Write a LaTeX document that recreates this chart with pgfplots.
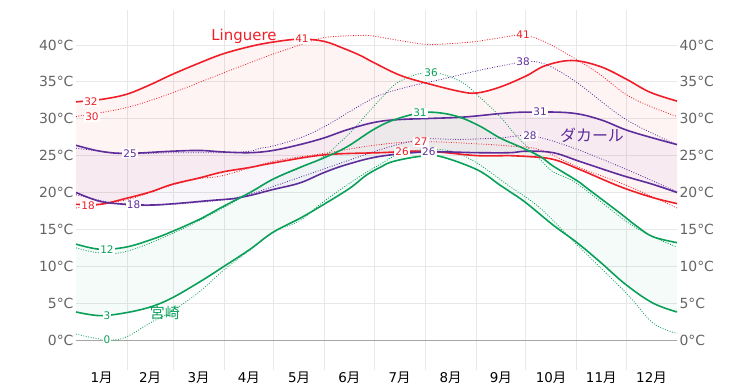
\documentclass[border=0pt]{standalone}
\usepackage{fontspec}
\setmainfont{DejaVu Sans}
\newfontfamily\jp{Noto Sans CJK JP}
\usepackage{pgfplots}
\pgfplotsset{compat=1.18}
\usepgfplotslibrary{fillbetween}
\definecolor{cR}{RGB}{240,30,40}
\definecolor{cP}{RGB}{95,45,155}
\definecolor{cG}{RGB}{10,160,90}
\definecolor{gridc}{RGB}{232,232,232}
\definecolor{tickc}{RGB}{100,100,100}
\tikzset{
  solidl/.style={line width=1.6bp, smooth, tension=0.6},
  dotl/.style={line width=0.8bp, smooth, tension=0.6, dash pattern=on 0.9bp off 1.6bp},
  lab/.style={font=\fontsize{10.5}{10.5}\selectfont, fill=white, inner sep=1pt}
}
\begin{document}
\begin{tikzpicture}
\begin{axis}[
  scale only axis, width=601bp, height=360bp,
  xmin=0, xmax=365, ymin=-4.07, ymax=44.75,
  axis line style={draw=none},
  tick style={draw=none},
  xtick={15.5,45,74.5,105,135.5,166,196.5,227.5,258,288.5,319,349.5},
  xticklabels={1{\jp 月},2{\jp 月},3{\jp 月},4{\jp 月},5{\jp 月},6{\jp 月},7{\jp 月},8{\jp 月},9{\jp 月},10{\jp 月},11{\jp 月},12{\jp 月}},
  minor xtick={31,59,90,120,151,181,212,243,273,304,334},
  xminorgrids,
  ytick={0,5,...,40},
  ymajorgrids,
  grid style={gridc, line width=0.8bp},
  minor grid style={gridc, line width=0.8bp},
  /pgf/number format/assume math mode=true,
  yticklabel={\pgfmathprintnumber{\tick}°C},
  yticklabel style={text=tickc, font=\fontsize{14}{15}\selectfont, xshift=1bp},
  xticklabel style={text=black, font=\fontsize{13.5}{14}\selectfont, inner sep=1bp, yshift=-1bp},
  clip=false,
]
\addplot[draw=gray!70, line width=0.8bp] coordinates {(0,0) (365,0)};

% Linguere
\addplot[name path=LH, draw=none, forget plot, smooth, tension=0.6] coordinates {(0,32.3)(14.6,32.6)(30.4,33.3)(44.9,34.6)(58.3,36.0)(75.3,37.6)(89.3,38.8)(105.7,39.8)(119.6,40.4)(136,40.8)(150.6,40.5)(163,39.5)(172.5,38.6)(181,37.6)(196.8,35.9)(213.2,34.8)(233.2,33.7)(243.5,33.5)(257.5,34.3)(273.3,35.8)(285,37.2)(301.2,37.9)(318.2,37.1)(334,35.4)(348.6,33.6)(365,32.4)};
\addplot[name path=LL, draw=none, forget plot, smooth, tension=0.6] coordinates {(0,18.4)(14.6,18.4)(30.4,19.2)(45.5,20.1)(58.3,21.1)(75.3,22)(89.3,22.8)(105.7,23.4)(119.6,24.0)(150.6,25.1)(184.6,25.4)(212.6,25.6)(243.5,25.0)(263.6,25.0)(273.3,24.9)(289.7,24.5)(306.1,23.1)(330.4,20.8)(350.4,19.3)(365,18.5)};
\addplot[fill=cR, fill opacity=0.05, draw=none, forget plot] fill between[of=LH and LL];

% Dakar
\addplot[name path=DH, draw=none, forget plot, smooth, tension=0.6] coordinates {(0,26.4)(14.6,25.6)(30.4,25.3)(58.3,25.6)(75.3,25.7)(89.3,25.5)(105.7,25.4)(119.6,25.7)(136,26.5)(150.6,27.4)(164.6,28.5)(181,29.5)(196.8,29.9)(233.2,30.2)(257.5,30.7)(273.3,30.9)(300,30.8)(318.2,29.9)(336.5,28.3)(365,26.5)};
\addplot[name path=DL, draw=none, forget plot, smooth, tension=0.6] coordinates {(0,20)(14.6,18.8)(30.4,18.4)(45.5,18.3)(60.7,18.5)(80.8,18.9)(97.2,19.2)(105.7,19.6)(119.6,20.4)(136,21.3)(150.6,22.7)(164.6,23.8)(184.6,24.9)(212.6,25.5)(243.5,25.4)(263.6,25.4)(273.3,25.6)(289.7,25.4)(306.1,24.2)(330.4,22.4)(350.4,21.1)(365,20)};
\addplot[fill=cP, fill opacity=0.045, draw=none, forget plot] fill between[of=DH and DL];

% Miyazaki
\addplot[name path=MH, draw=none, forget plot, smooth, tension=0.6] coordinates {(0,13)(14.6,12.3)(30.4,12.6)(45.5,13.6)(58.3,14.7)(75.3,16.4)(89.3,18.1)(105.7,20.0)(119.6,21.8)(136,23.4)(150.6,24.7)(164.6,26.2)(180.4,28.5)(192.5,29.8)(208.9,30.8)(221,30.8)(233.2,30.2)(245.3,29)(257.5,27.4)(269.6,26.2)(281.8,24.9)(289.7,23.6)(304.3,21.6)(310.3,20.6)(330.4,17.2)(340.7,15.4)(350.4,14)(365,13.2)};
\addplot[name path=ML, draw=none, forget plot, smooth, tension=0.6] coordinates {(0,3.8)(14.6,3.3)(30.4,3.7)(45.5,4.5)(58.3,5.7)(75.3,7.9)(89.3,9.9)(105.7,12.3)(119.6,14.6)(136,16.5)(150.6,18.4)(166.4,20.6)(176,22.3)(184.6,23.4)(192.5,24.2)(208.9,24.9)(221,24.9)(243.5,23.1)(257.5,21)(263.6,20.1)(273.3,18.6)(289.7,15.6)(304.3,13.2)(318.2,10.6)(334,7.5)(350.4,5)(365,3.8)};
\addplot[fill=cG, fill opacity=0.045, draw=none, forget plot] fill between[of=MH and ML];

% dotted lines
\addplot[cR, dotl] coordinates {(0,30.3)(30.4,31.5)(58.3,33.5)(89.3,36.2)(105.7,37.6)(120,38.8)(136,40)(150.6,41)(172.5,41.3)(181,41.2)(196.8,40.6)(212.6,40.1)(228,40.2)(243.5,40.5)(263.6,41.2)(271.5,41.4)(285,40.4)(304.3,38)(318.2,36)(334,33.3)(348.6,31.7)(365,30.3)};
\addplot[cR, dotl] coordinates {(0,17.9)(30.4,19)(58.3,21)(75.3,21.9)(89.3,22.3)(119.6,24.2)(150.6,25.3)(181,26.4)(208.9,26.9)(243.5,26.6)(263.6,26.3)(281.8,25.8)(304.3,23.5)(334,21)(365,17.9)};
\addplot[cP, dotl] coordinates {(0,26)(30.4,25.3)(58.3,25.4)(89.3,25.4)(105.7,25.6)(111.7,26)(119.6,26.3)(136,27.4)(150.6,28.9)(166.4,31)(172.5,31.8)(184.6,33.2)(202.8,34.4)(221,35.3)(243.5,36.5)(263.6,37.4)(274,37.8)(286,37.3)(304.3,34.9)(334,29.9)(365,26.5)};
\addplot[cP, dotl] coordinates {(0,19.7)(30.4,18.3)(58.3,18.4)(89.3,19)(105.7,19.8)(119.6,20.8)(150.6,23.2)(184.6,25.8)(202.8,26.9)(213.2,27.3)(233.2,27.2)(257.5,27.4)(276,27.7)(300,26.2)(330.4,23.5)(365,20.1)};
\addplot[cG, dotl] coordinates {(0,12.5)(14.6,11.8)(30.4,12)(58.3,14.4)(89.3,17.9)(119.6,21.8)(136,23.3)(150.6,24.9)(160.3,26.8)(168.2,28.5)(184.6,32.6)(196.8,35.1)(215,36.3)(233.2,35.1)(245.3,32.9)(257.5,30.3)(267.8,27.6)(281.8,24.5)(289.7,22.8)(304.3,21.2)(334,16.1)(350.4,14)(365,12.6)};
\addplot[cG, dotl] coordinates {(0,0.8)(18.8,0)(30.4,0.4)(44.9,2.3)(58.3,3.9)(75.3,6.6)(89.3,9.4)(105.7,12.2)(119.6,14.6)(136,16.2)(150.6,18.8)(172.5,22.2)(184.6,23.8)(196.8,25.3)(212.6,25.8)(228,25.6)(243.5,24)(263.6,20.8)(281.8,17.9)(304.3,12.9)(334,6.4)(350.4,2.3)(365,0.9)};

% solid lines
\addplot[cR, solidl] coordinates {(0,32.3)(14.6,32.6)(30.4,33.3)(44.9,34.6)(58.3,36.0)(75.3,37.6)(89.3,38.8)(105.7,39.8)(119.6,40.4)(136,40.8)(150.6,40.5)(163,39.5)(172.5,38.6)(181,37.6)(196.8,35.9)(213.2,34.8)(233.2,33.7)(243.5,33.5)(257.5,34.3)(273.3,35.8)(285,37.2)(301.2,37.9)(318.2,37.1)(334,35.4)(348.6,33.6)(365,32.4)};
\addplot[cR, solidl] coordinates {(0,18.4)(14.6,18.4)(30.4,19.2)(45.5,20.1)(58.3,21.1)(75.3,22)(89.3,22.8)(105.7,23.4)(119.6,24.0)(150.6,25.1)(184.6,25.4)(212.6,25.6)(243.5,25.0)(263.6,25.0)(273.3,24.9)(289.7,24.5)(306.1,23.1)(330.4,20.8)(350.4,19.3)(365,18.5)};
\addplot[cP, solidl] coordinates {(0,26.4)(14.6,25.6)(30.4,25.3)(58.3,25.6)(75.3,25.7)(89.3,25.5)(105.7,25.4)(119.6,25.7)(136,26.5)(150.6,27.4)(164.6,28.5)(181,29.5)(196.8,29.9)(233.2,30.2)(257.5,30.7)(273.3,30.9)(300,30.8)(318.2,29.9)(336.5,28.3)(365,26.5)};
\addplot[cP, solidl] coordinates {(0,20)(14.6,18.8)(30.4,18.4)(45.5,18.3)(60.7,18.5)(80.8,18.9)(97.2,19.2)(105.7,19.6)(119.6,20.4)(136,21.3)(150.6,22.7)(164.6,23.8)(184.6,24.9)(212.6,25.5)(243.5,25.4)(263.6,25.4)(273.3,25.6)(289.7,25.4)(306.1,24.2)(330.4,22.4)(350.4,21.1)(365,20)};
\addplot[cG, solidl] coordinates {(0,13)(14.6,12.3)(30.4,12.6)(45.5,13.6)(58.3,14.7)(75.3,16.4)(89.3,18.1)(105.7,20.0)(119.6,21.8)(136,23.4)(150.6,24.7)(164.6,26.2)(180.4,28.5)(192.5,29.8)(208.9,30.8)(221,30.8)(233.2,30.2)(245.3,29)(257.5,27.4)(269.6,26.2)(281.8,24.9)(289.7,23.6)(304.3,21.6)(310.3,20.6)(330.4,17.2)(340.7,15.4)(350.4,14)(365,13.2)};
\addplot[cG, solidl] coordinates {(0,3.8)(14.6,3.3)(30.4,3.7)(45.5,4.5)(58.3,5.7)(75.3,7.9)(89.3,9.9)(105.7,12.3)(119.6,14.6)(136,16.5)(150.6,18.4)(166.4,20.6)(176,22.3)(184.6,23.4)(192.5,24.2)(208.9,24.9)(221,24.9)(243.5,23.1)(257.5,21)(263.6,20.1)(273.3,18.6)(289.7,15.6)(304.3,13.2)(318.2,10.6)(334,7.5)(350.4,5)(365,3.8)};

% value labels
\node[lab, text=cR] at (axis cs:9.1,32.3) {32};
\node[lab, text=cR] at (axis cs:9.7,30.3) {30};
\node[lab, text=cR] at (axis cs:137.2,40.8) {41};
\node[lab, text=cR] at (axis cs:271.5,41.4) {41};
\node[lab, text=cR] at (axis cs:7.3,18.2) {18};
\node[lab, text=cR] at (axis cs:198,25.5) {26};
\node[lab, text=cR] at (axis cs:209.5,26.9) {27};
\node[lab, text=cP] at (axis cs:32.8,25.3) {25};
\node[lab, text=cP] at (axis cs:35,18.3) {18};
\node[lab, text=cP] at (axis cs:281.8,30.9) {31};
\node[lab, text=cP] at (axis cs:271.5,37.8) {38};
\node[lab, text=cP] at (axis cs:214.3,25.5) {26};
\node[lab, text=cP] at (axis cs:275.7,27.7) {28};
\node[lab, text=cG] at (axis cs:18.8,12.2) {12};
\node[lab, text=cG] at (axis cs:18.8,3.3) {3};
\node[lab, text=cG] at (axis cs:18.8,0) {0};
\node[lab, text=cG] at (axis cs:208.9,30.8) {31};
\node[lab, text=cG] at (axis cs:215.6,36.3) {36};

% city labels
\node[text=cR, font=\fontsize{15}{16}\selectfont] at (axis cs:102,41.2) {Linguere};
\node[text=cP, font=\fontsize{16}{17}\jp] at (axis cs:313.4,27.8) {ダカール};
\node[text=cG, font=\fontsize{15}{16}\jp] at (axis cs:54,3.7) {宮崎};
\end{axis}
\begin{axis}[
  scale only axis, width=601bp, height=360bp,
  xmin=0, xmax=365, ymin=-4.07, ymax=44.75,
  hide x axis,
  axis y line*=right,
  y axis line style={draw=none},
  tick style={draw=none},
  ytick={0,5,...,40},
  /pgf/number format/assume math mode=true,
  yticklabel={\pgfmathprintnumber{\tick}°C},
  yticklabel style={text=tickc, font=\fontsize{14}{15}\selectfont, xshift=-1bp},
]
\addplot[draw=none] coordinates {(0,0)};
\end{axis}
\path ([shift={(-76bp,-17bp)}]current axis.south west) rectangle ([shift={(76bp,10bp)}]current axis.north east);
\end{tikzpicture}
\end{document}
